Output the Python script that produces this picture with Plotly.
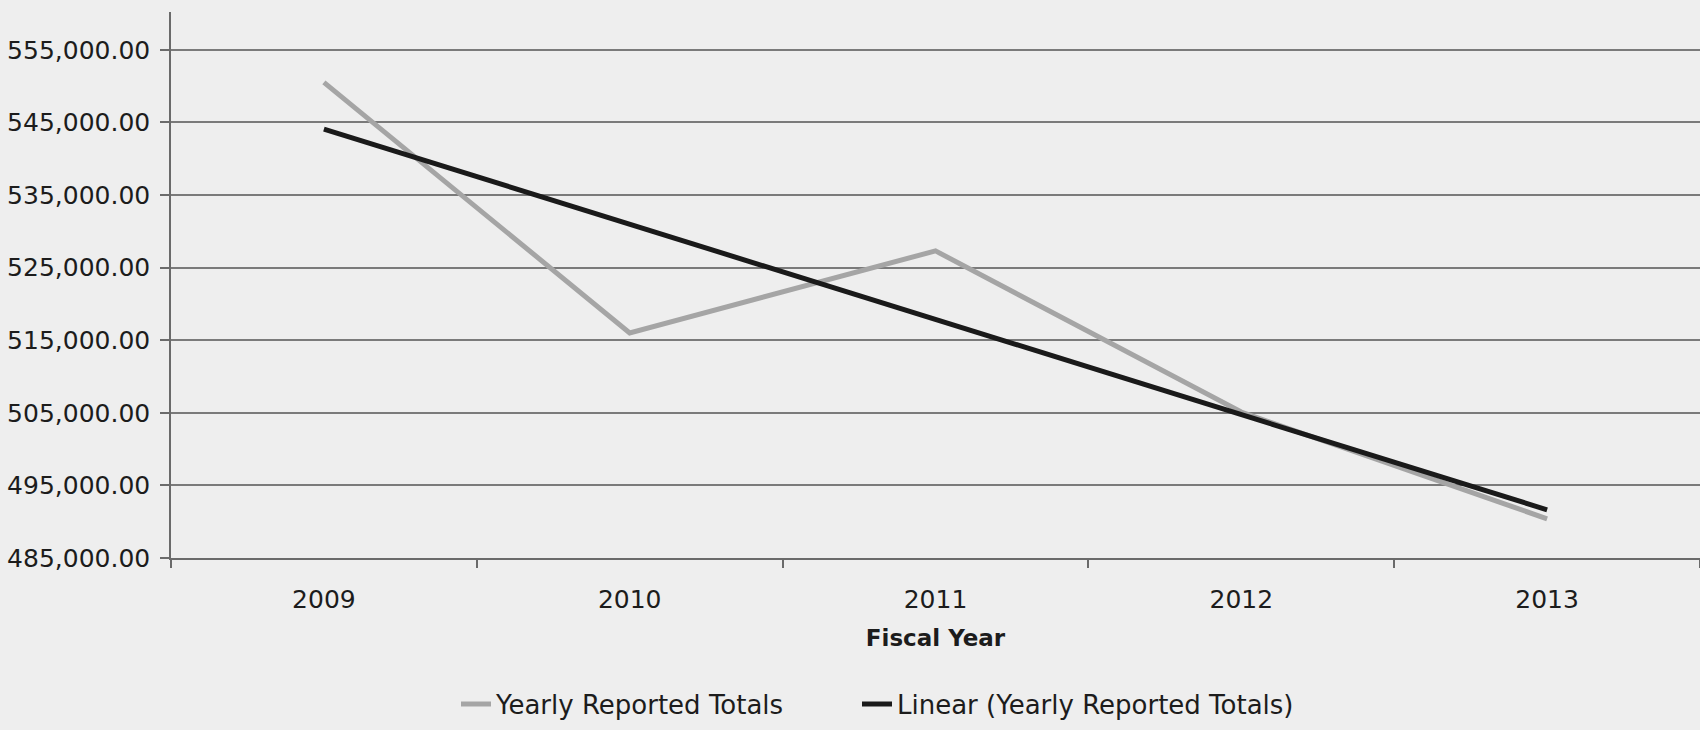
import numpy as np
import plotly.graph_objects as go

years = ["2009", "2010", "2011", "2012", "2013"]
totals = [550500, 516000, 527300, 505100, 490400]
tick_vals = [485000, 495000, 505000, 515000, 525000, 535000, 545000, 555000]

# Excel-style linear trendline fitted to the reported totals
xi = np.arange(len(totals))
slope, intercept = np.polyfit(xi, totals, 1)
trend = (slope * xi + intercept).tolist()

font_family = "DejaVu Sans, Arial, sans-serif"
text_color = "#1c1c1c"

fig = go.Figure()
fig.add_trace(go.Scatter(
    x=years, y=totals, mode="lines", name="Yearly Reported Totals",
    line=dict(color="#a5a5a5", width=5), legend="legend",
))
fig.add_trace(go.Scatter(
    x=years, y=trend, mode="lines", name="Linear (Yearly Reported Totals)",
    line=dict(color="#1a1a1a", width=5), legend="legend2",
))

legend_common = dict(
    orientation="h", xref="container", yref="container",
    xanchor="left", yanchor="middle", y=1 - 704 / 730,
    font=dict(size=26, color=text_color), bgcolor="rgba(0,0,0,0)",
)

fig.update_layout(
    width=1700, height=730,
    margin=dict(l=171, r=0, t=12, b=172),
    paper_bgcolor="#eeeeee", plot_bgcolor="#eeeeee",
    font=dict(family=font_family, size=25, color=text_color),
    showlegend=True,
    legend=dict(x=456 / 1700, **legend_common),
    legend2=dict(x=857 / 1700, **legend_common),
)
fig.update_xaxes(
    type="category", range=[-0.5, 4.5],
    showline=True, linecolor="#6a6a6a", linewidth=1.5,
    showgrid=False, tickson="boundaries", ticks="outside", ticklen=8,
    tickcolor="#6a6a6a", tickwidth=1.5, ticklabelstandoff=18,
    tickfont=dict(size=25, color=text_color),
    title=dict(text="<b>Fiscal Year</b>", font=dict(size=23, color=text_color), standoff=17),
)
fig.update_yaxes(
    range=[485000, 560200], tickvals=tick_vals, tickformat=",.2f",
    showline=True, linecolor="#6a6a6a", linewidth=1.5,
    showgrid=True, gridcolor="#7a7a7a", gridwidth=1.5,
    ticks="outside", ticklen=9, tickcolor="#6a6a6a", tickwidth=1.5,
    ticklabelstandoff=5, zeroline=False,
    tickfont=dict(size=25, color=text_color),
)

fig.write_html("out.html")
